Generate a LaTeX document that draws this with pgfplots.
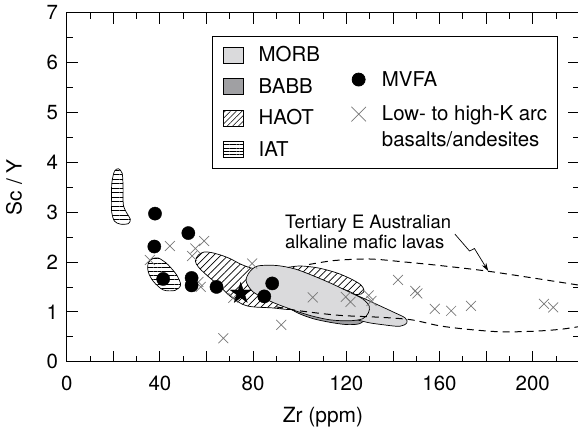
\documentclass[border=0pt]{standalone}
\usepackage{fontspec}
\setmainfont{TeX Gyre Heros}
\usepackage{pgfplots}
\pgfplotsset{compat=1.18}
\usetikzlibrary{patterns.meta,arrows.meta}
\definecolor{morb}{RGB}{218,218,220}
\definecolor{babb}{RGB}{160,160,163}
\definecolor{xgray}{RGB}{120,120,120}
\pgfdeclareplotmark{fstar}{%
  \pgfpathmoveto{\pgfpointpolar{90}{\pgfplotmarksize}}%
  \pgfpathlineto{\pgfpointpolar{126}{0.382\pgfplotmarksize}}%
  \pgfpathlineto{\pgfpointpolar{162}{\pgfplotmarksize}}%
  \pgfpathlineto{\pgfpointpolar{198}{0.382\pgfplotmarksize}}%
  \pgfpathlineto{\pgfpointpolar{234}{\pgfplotmarksize}}%
  \pgfpathlineto{\pgfpointpolar{270}{0.382\pgfplotmarksize}}%
  \pgfpathlineto{\pgfpointpolar{306}{\pgfplotmarksize}}%
  \pgfpathlineto{\pgfpointpolar{342}{0.382\pgfplotmarksize}}%
  \pgfpathlineto{\pgfpointpolar{18}{\pgfplotmarksize}}%
  \pgfpathlineto{\pgfpointpolar{54}{0.382\pgfplotmarksize}}%
  \pgfpathclose
  \pgfusepathqfillstroke
}
\begin{document}
\begin{tikzpicture}
\begin{axis}[
  width=512.6bp, height=349bp, scale only axis,
  xmin=0, xmax=220, ymin=0, ymax=7,
  axis line style={line width=0.8bp},
  xtick={0,20,...,220},
  xticklabels={0,,40,,80,,120,,160,,200,},
  ytick={0,1,...,7},
  yticklabels={0,1,2,3,4,5,6,7},
  minor x tick num=1, minor y tick num=1,
  tick align=inside,
  major tick length=11bp, minor tick length=6bp,
  tick style={black, line width=0.8bp},
  tick label style={font=\fontsize{20.5}{24}\selectfont, inner sep=0pt},
  xticklabel style={anchor=base, yshift=-29bp},
  yticklabel style={anchor=east, xshift=-8.5bp},
  xlabel={Zr (ppm)}, ylabel={Sc / Y},
  label style={font=\fontsize{21}{25}\selectfont, inner sep=0pt},
  xlabel style={at={(axis description cs:0.5,0)}, anchor=base, yshift=-61bp},
  ylabel style={at={(axis description cs:-0.0878,0.5)}, anchor=base},
  legend columns=2,
  legend cell align=left,
  legend style={at={(0.2844,0.934)}, anchor=north west, draw=black, line width=0.8bp, fill=white,
    font=\fontsize{20.5}{24}\selectfont, inner xsep=10.5bp, inner ysep=10.5bp,
    row sep=15bp, column sep=0bp, nodes={inner sep=0pt, text height=14bp, text depth=1bp}},
]
% ---- legend ----
\addlegendimage{legend image code/.code={\path[draw=none] (0,0) -- (35bp,0); \draw[black, line width=0.6bp, fill=morb] (0,-8bp) rectangle (20bp,8bp);}}
\addlegendentry{MORB}
\addlegendimage{legend image code/.code={\path[draw=none] (0,0) -- (62bp,0);}}
\addlegendentry{\mbox{}}
\addlegendimage{legend image code/.code={\path[draw=none] (0,0) -- (35bp,0); \draw[black, line width=0.6bp, fill=babb] (0,-8bp) rectangle (20bp,8bp);}}
\addlegendentry{BABB}
\addlegendimage{legend image code/.code={\path[draw=none] (0,0) -- (62bp,0); \begin{pgfinterruptboundingbox}\fill[black] (38.7bp,7bp) circle (6.5bp);\end{pgfinterruptboundingbox}}}
\addlegendentry{\raisebox{7bp}{MVFA}}
\addlegendimage{legend image code/.code={\path[draw=none] (0,0) -- (35bp,0); \draw[black, line width=0.6bp, pattern={Lines[angle=45,distance=4bp,line width=0.55bp]}] (0,-8bp) rectangle (20bp,8bp);}}
\addlegendentry{HAOT}
\addlegendimage{legend image code/.code={\path[draw=none] (0,0) -- (62bp,0); \begin{pgfinterruptboundingbox}\draw[xgray, line width=0.7bp] (31.4bp,-3.3bp) -- (46bp,11.3bp) (31.4bp,11.3bp) -- (46bp,-3.3bp);\end{pgfinterruptboundingbox}}}
\addlegendentry{\raisebox{4bp}{Low- to high-K arc}}
\addlegendimage{legend image code/.code={\path[draw=none] (0,0) -- (35bp,0); \draw[black, line width=0.6bp, pattern={Lines[angle=0,distance=3.4bp,line width=0.55bp]}] (0,-8bp) rectangle (20bp,8bp);}}
\addlegendentry{IAT}
\addlegendimage{legend image code/.code={\path[draw=none] (0,0) -- (62bp,0);}}
\addlegendentry{\raisebox{10bp}{basalts/andesites}}

% ---- fields ----
% IAT (upper)
\addplot[forget plot, smooth cycle, draw=black, line width=0.7bp, pattern={Lines[angle=0,distance=4.5bp,line width=0.6bp]}] coordinates {
(19.4,3.6) (20.5,3.82) (22.2,3.87) (23.8,3.78) (24.2,3.5) (24.3,3.15) (25.8,2.98) (27.3,2.86) (26.5,2.77) (23,2.76) (20.5,2.82) (19.3,3.0) (19.2,3.3)};
% IAT (lower)
\addplot[forget plot, smooth cycle, draw=black, line width=0.7bp, pattern={Lines[angle=0,distance=4.2bp,line width=0.6bp]}] coordinates {
(35,1.98) (37,2.07) (39.3,2.08) (41.5,2.02) (43.6,1.94) (47.2,1.74) (48.9,1.54) (46.5,1.43) (41.4,1.44) (37.2,1.61) (35,1.8)};
% HAOT
\addplot[forget plot, smooth cycle, draw=black, line width=0.7bp, pattern={Lines[angle=45,distance=5bp,line width=0.7bp]}] coordinates {
(55.2,2.02) (56.5,2.14) (59,2.2) (62,2.19) (66,2.14) (70,2.07) (75,1.95) (80,1.87) (86,1.85) (93,1.88) (100,1.92) (108,1.88) (116,1.78) (122,1.66) (126,1.55) (127.5,1.45) (126.5,1.36) (118,1.32) (108,1.22) (98,1.05) (88,1.08) (80,1.1) (75.5,1.15) (70,1.32) (65.5,1.52) (60,1.74) (56.5,1.9)};
% BABB
\addplot[forget plot, smooth cycle, draw=black, line width=0.7bp, fill=babb] coordinates {
(96,1.07) (100,0.96) (106,0.86) (113,0.79) (120,0.745) (125.5,0.76) (128,0.86) (124,0.95) (112,0.98) (102,1.04)};
% MORB (tail)
\addplot[forget plot, smooth cycle, draw=black, line width=0.7bp, fill=morb] coordinates {
(118,1.44) (126,1.3) (134,1.13) (140,1.0) (145.2,0.88) (146,0.78) (143,0.71) (136,0.74) (128,0.8) (120,0.95)};
% MORB (main)
\addplot[forget plot, smooth cycle, draw=black, line width=0.7bp, fill=morb] coordinates {
(77,1.62) (78.5,1.8) (82,1.92) (90,1.93) (98,1.86) (106,1.72) (114,1.56) (122,1.38) (127,1.26) (129.8,1.12) (129.5,0.98) (127,0.86) (121,0.82) (113,0.84) (105,0.92) (97,1.04) (88,1.2) (80,1.4)};

% ---- Tertiary E Australian alkaline mafic lavas (dashed) ----
\addplot[forget plot, smooth, black, line width=1bp, dash pattern=on 7bp off 5bp] coordinates {
(104,1.95) (115,2.03) (130,2.06) (145,2.0) (160,1.93) (180,1.82) (200,1.68) (222,1.52)};
\addplot[forget plot, smooth, black, line width=1bp, dash pattern=on 7bp off 5bp] coordinates {
(90,1.1) (100,1.02) (117,0.93) (135,0.89) (148,0.84) (160,0.72) (172,0.65) (186,0.6) (200,0.61) (212,0.65) (222,0.72)};

% ---- arc basalts/andesites ----
\addplot[forget plot, only marks, mark=x, mark size=7bp, xgray, mark options={line width=0.7bp}] coordinates {
(35.7,2.04) (44.3,2.32) (53.8,2.12) (55.2,2.27) (59.0,2.42) (56.5,1.6) (57.5,1.5) (67.2,0.47) (71.5,1.28) (79.6,1.97) (92.1,0.74) (105.6,1.29) (119.8,1.3) (121.8,1.2) (129.6,1.33) (130.8,1.22) (142.2,1.64) (149.6,1.42) (150.5,1.37) (158,1.06) (165,1.02) (173.5,1.12) (204.8,1.16) (208.8,1.09)};

% ---- MVFA ----
\addplot[forget plot, only marks, mark=*, mark size=6.6bp, black] coordinates {
(37.9,2.97) (37.6,2.31) (52.2,2.58) (41.4,1.66) (53.6,1.68) (53.6,1.53) (64.3,1.5) (84.8,1.31) (88.2,1.57)};
\addplot[forget plot, only marks, mark=fstar, mark size=11bp, black] coordinates {(74.7,1.37)};

% ---- annotation ----
\node[anchor=north west, inner sep=0pt, align=left, font=\fontsize{18.5}{20}\selectfont] at (axis cs:93.7,2.95)
  {Tertiary E Australian\\alkaline mafic lavas};
\draw[line width=0.7bp, -{Stealth[length=8bp,width=5bp]}] (axis cs:166.6,2.56) -- (axis cs:172.9,2.22) -- (axis cs:175,2.27) -- (axis cs:180.9,1.82);
\end{axis}
\pgfresetboundingbox
\path[use as bounding box] (-66.7bp,-65bp) rectangle (511.3bp,361.7bp);
\end{tikzpicture}
\end{document}
